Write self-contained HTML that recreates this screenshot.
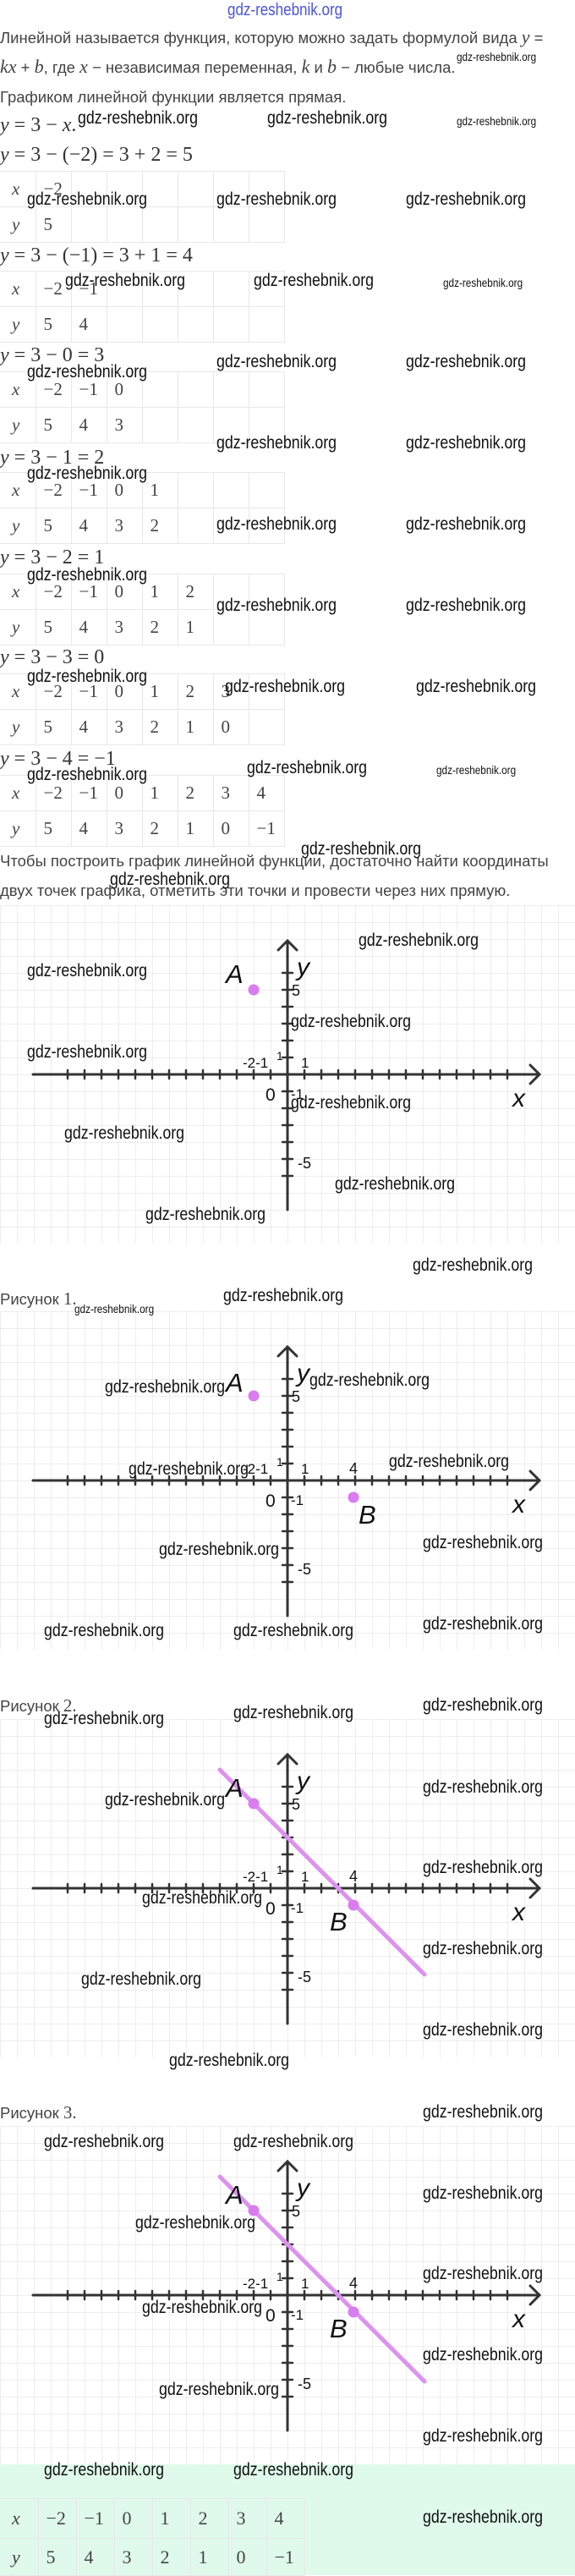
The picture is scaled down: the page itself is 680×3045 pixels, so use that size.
<!DOCTYPE html>
<html><head><meta charset="utf-8">
<style>
*{margin:0;padding:0;box-sizing:border-box}
body{width:680px;height:3044px;background:#fff;position:relative;overflow:hidden;font-family:"Liberation Sans",sans-serif;color:#3a3a3a}
.a{position:absolute;white-space:nowrap}
.t{font-size:18.5px;line-height:20px;color:#444}
.m{font-family:"Liberation Serif",serif;font-size:24px;line-height:24px;color:#333}
i{font-family:"Liberation Serif",serif;font-style:italic}
.w{position:absolute;white-space:nowrap;font-size:21px;line-height:24px;color:#111;transform:scaleX(.845);transform-origin:0 50%}
.s{position:absolute;white-space:nowrap;font-size:14px;line-height:16px;color:#111;transform:scaleX(.84);transform-origin:0 50%}
table{position:absolute;left:0;border-collapse:collapse;font-family:"Liberation Serif",serif;font-size:21px;color:#444}
td{width:42px;height:42px;border:1px solid #e8e8e8;padding:0 0 0 9px;text-align:left;vertical-align:middle}
td:first-child{border-left:none;padding-left:14px}
td.l{font-style:italic}
.g{position:absolute;left:0;width:680px;height:400px}
</style></head><body>

<div class="a" style="left:269px;top:2px;font-size:20px;line-height:20px;color:#4b55d6;transform:scaleX(.85);transform-origin:0 50%">gdz-reshebnik.org</div>

<div class="a t" style="left:0;top:34px">Линейной называется функция, которую можно задать формулой вида <i style="font-size:22px">y</i> =</div>
<div class="a t" style="left:0;top:69px"><i style="font-size:22px">kx</i> + <i style="font-size:22px">b</i>, где <i style="font-size:22px">x</i> − независимая переменная, <i style="font-size:22px">k</i> и <i style="font-size:22px">b</i> − любые числа.</div>
<div class="a t" style="left:0;top:105px">Графиком линейной функции является прямая.</div>

<div class="a m" style="left:0;top:136px"><i>y</i> = 3 − <i>x</i>.</div>
<div class="a m" style="left:0;top:171px"><i>y</i> = 3 − (−2) = 3 + 2 = 5</div>
<table style="top:202px"><tr><td class="l">x</td><td>−2</td><td></td><td></td><td></td><td></td><td></td><td></td></tr><tr><td class="l">y</td><td>5</td><td></td><td></td><td></td><td></td><td></td><td></td></tr></table>
<div class="a m" style="left:0;top:290px"><i>y</i> = 3 − (−1) = 3 + 1 = 4</div>
<table style="top:320px"><tr><td class="l">x</td><td>−2</td><td>−1</td><td></td><td></td><td></td><td></td><td></td></tr><tr><td class="l">y</td><td>5</td><td>4</td><td></td><td></td><td></td><td></td><td></td></tr></table>
<div class="a m" style="left:0;top:408px"><i>y</i> = 3 − 0 = 3</div>
<table style="top:439px"><tr><td class="l">x</td><td>−2</td><td>−1</td><td>0</td><td></td><td></td><td></td><td></td></tr><tr><td class="l">y</td><td>5</td><td>4</td><td>3</td><td></td><td></td><td></td><td></td></tr></table>
<div class="a m" style="left:0;top:529px"><i>y</i> = 3 − 1 = 2</div>
<table style="top:558px"><tr><td class="l">x</td><td>−2</td><td>−1</td><td>0</td><td>1</td><td></td><td></td><td></td></tr><tr><td class="l">y</td><td>5</td><td>4</td><td>3</td><td>2</td><td></td><td></td><td></td></tr></table>
<div class="a m" style="left:0;top:647px"><i>y</i> = 3 − 2 = 1</div>
<table style="top:678px"><tr><td class="l">x</td><td>−2</td><td>−1</td><td>0</td><td>1</td><td>2</td><td></td><td></td></tr><tr><td class="l">y</td><td>5</td><td>4</td><td>3</td><td>2</td><td>1</td><td></td><td></td></tr></table>
<div class="a m" style="left:0;top:765px"><i>y</i> = 3 − 3 = 0</div>
<table style="top:796px"><tr><td class="l">x</td><td>−2</td><td>−1</td><td>0</td><td>1</td><td>2</td><td>3</td><td></td></tr><tr><td class="l">y</td><td>5</td><td>4</td><td>3</td><td>2</td><td>1</td><td>0</td><td></td></tr></table>
<div class="a m" style="left:0;top:885px"><i>y</i> = 3 − 4 = −1</div>
<table style="top:916px"><tr><td class="l">x</td><td>−2</td><td>−1</td><td>0</td><td>1</td><td>2</td><td>3</td><td>4</td></tr><tr><td class="l">y</td><td>5</td><td>4</td><td>3</td><td>2</td><td>1</td><td>0</td><td>−1</td></tr></table>

<div class="a t" style="left:0;top:1008px">Чтобы построить график линейной функции, достаточно найти координаты</div>
<div class="a t" style="left:0;top:1043px">двух точек графика, отметить эти точки и провести через них прямую.</div>

<svg width="0" height="0" style="position:absolute"><defs>
<pattern id="gp" width="20" height="20" patternUnits="userSpaceOnUse"><path d="M0 0H20M0 0V20" stroke="#e3e3e3" stroke-width="1.2" fill="none"/></pattern>
</defs></svg>

<!-- Graph 1 -->
<svg class="g" style="top:1070px" viewBox="0 0 680 400">
<rect width="680" height="400" fill="url(#gp)"/>
<g stroke="#333" stroke-width="3" fill="none" stroke-linecap="round">
<path d="M39 200H637M627 189L638 200L627 211M340 360V42M329 53L340 42L351 53"/>
<path stroke-width="2.5" d="M80 195v10M100 195v10M120 195v10M140 195v10M160 195v10M180 195v10M200 195v10M220 195v10M240 195v10M260 195v10M280 195v10M300 195v10M320 195v10M360 195v10M380 195v10M400 195v10M420 195v10M440 195v10M460 195v10M480 195v10M500 195v10M520 195v10M540 195v10M560 195v10M580 195v10M600 195v10M334 80h12M334 100h12M334 120h12M334 140h12M334 160h12M334 180h12M334 220h12M334 240h12M334 260h12M334 280h12M334 300h12M334 320h12"/>
</g>
<g font-family="Liberation Sans, sans-serif" fill="#111">
<text x="351" y="83" font-size="30" font-style="italic">y</text>
<text x="606" y="238" font-size="30" font-style="italic">x</text>
<text x="345" y="107" font-size="18">5</text>
<text x="356" y="192" font-size="17">1</text>
<text x="287" y="192" font-size="17">-2-1</text>
<text x="327" y="183" font-size="14">1</text>
<text x="314" y="231" font-size="21">0</text>
<text x="344" y="229" font-size="17">-1</text>
<text x="352" y="311" font-size="18">-5</text>
<text x="267" y="92" font-size="31" font-style="italic">A</text>
</g>
<circle cx="300" cy="100" r="6.5" fill="#d87cf0"/>
</svg>

<div class="a t" style="left:0;top:1525px">Рисунок <span style="font-family:'Liberation Serif',serif;font-size:21px">1.</span></div>

<!-- Graph 2 -->
<svg class="g" style="top:1550px" viewBox="0 0 680 400">
<rect width="680" height="400" fill="url(#gp)"/>
<g stroke="#333" stroke-width="3" fill="none" stroke-linecap="round">
<path d="M39 200H637M627 189L638 200L627 211M340 360V42M329 53L340 42L351 53"/>
<path stroke-width="2.5" d="M80 195v10M100 195v10M120 195v10M140 195v10M160 195v10M180 195v10M200 195v10M220 195v10M240 195v10M260 195v10M280 195v10M300 195v10M320 195v10M360 195v10M380 195v10M400 195v10M420 195v10M440 195v10M460 195v10M480 195v10M500 195v10M520 195v10M540 195v10M560 195v10M580 195v10M600 195v10M334 80h12M334 100h12M334 120h12M334 140h12M334 160h12M334 180h12M334 220h12M334 240h12M334 260h12M334 280h12M334 300h12M334 320h12"/>
</g>
<g font-family="Liberation Sans, sans-serif" fill="#111">
<text x="351" y="83" font-size="30" font-style="italic">y</text>
<text x="606" y="238" font-size="30" font-style="italic">x</text>
<text x="345" y="107" font-size="18">5</text>
<text x="356" y="192" font-size="17">1</text>
<text x="287" y="192" font-size="17">-2-1</text>
<text x="327" y="183" font-size="14">1</text>
<text x="314" y="231" font-size="21">0</text>
<text x="344" y="229" font-size="17">-1</text>
<text x="352" y="311" font-size="18">-5</text>
<text x="413" y="192" font-size="18">4</text>
<text x="267" y="95" font-size="31" font-style="italic">A</text>
<text x="424" y="251" font-size="31" font-style="italic">B</text>
</g>
<circle cx="300" cy="100" r="6.5" fill="#d87cf0"/>
<circle cx="418" cy="220" r="6.5" fill="#d87cf0"/>
</svg>

<div class="a t" style="left:0;top:2006px">Рисунок <span style="font-family:'Liberation Serif',serif;font-size:21px">2.</span></div>

<!-- Graph 3 -->
<svg class="g" style="top:2032px" viewBox="0 0 680 400">
<rect width="680" height="400" fill="url(#gp)"/>
<g stroke="#333" stroke-width="3" fill="none" stroke-linecap="round">
<path d="M39 200H637M627 189L638 200L627 211M340 360V42M329 53L340 42L351 53"/>
<path stroke-width="2.5" d="M80 195v10M100 195v10M120 195v10M140 195v10M160 195v10M180 195v10M200 195v10M220 195v10M240 195v10M260 195v10M280 195v10M300 195v10M320 195v10M360 195v10M380 195v10M400 195v10M420 195v10M440 195v10M460 195v10M480 195v10M500 195v10M520 195v10M540 195v10M560 195v10M580 195v10M600 195v10M334 80h12M334 100h12M334 120h12M334 140h12M334 160h12M334 180h12M334 220h12M334 240h12M334 260h12M334 280h12M334 300h12M334 320h12"/>
</g>
<line x1="260" y1="60" x2="502" y2="302" stroke="#dc92ee" stroke-width="5" stroke-linecap="round"/>
<g font-family="Liberation Sans, sans-serif" fill="#111">
<text x="351" y="83" font-size="30" font-style="italic">y</text>
<text x="606" y="238" font-size="30" font-style="italic">x</text>
<text x="345" y="107" font-size="18">5</text>
<text x="356" y="192" font-size="17">1</text>
<text x="287" y="192" font-size="17">-2-1</text>
<text x="327" y="183" font-size="14">1</text>
<text x="314" y="231" font-size="21">0</text>
<text x="344" y="229" font-size="17">-1</text>
<text x="352" y="311" font-size="18">-5</text>
<text x="413" y="192" font-size="18">4</text>
<text x="267" y="92" font-size="31" font-style="italic">A</text>
<text x="390" y="250" font-size="31" font-style="italic">B</text>
</g>
<circle cx="300" cy="100" r="6.5" fill="#d87cf0"/>
<circle cx="418" cy="220" r="6.5" fill="#d87cf0"/>
</svg>

<div class="a t" style="left:0;top:2487px">Рисунок <span style="font-family:'Liberation Serif',serif;font-size:21px">3.</span></div>

<!-- Graph 4 -->
<svg class="g" style="top:2513px" viewBox="0 0 680 400">
<rect width="680" height="400" fill="url(#gp)"/>
<g stroke="#333" stroke-width="3" fill="none" stroke-linecap="round">
<path d="M39 200H637M627 189L638 200L627 211M340 360V42M329 53L340 42L351 53"/>
<path stroke-width="2.5" d="M80 195v10M100 195v10M120 195v10M140 195v10M160 195v10M180 195v10M200 195v10M220 195v10M240 195v10M260 195v10M280 195v10M300 195v10M320 195v10M360 195v10M380 195v10M400 195v10M420 195v10M440 195v10M460 195v10M480 195v10M500 195v10M520 195v10M540 195v10M560 195v10M580 195v10M600 195v10M334 80h12M334 100h12M334 120h12M334 140h12M334 160h12M334 180h12M334 220h12M334 240h12M334 260h12M334 280h12M334 300h12M334 320h12"/>
</g>
<line x1="260" y1="60" x2="502" y2="302" stroke="#dc92ee" stroke-width="5" stroke-linecap="round"/>
<g font-family="Liberation Sans, sans-serif" fill="#111">
<text x="351" y="83" font-size="30" font-style="italic">y</text>
<text x="606" y="238" font-size="30" font-style="italic">x</text>
<text x="345" y="107" font-size="18">5</text>
<text x="356" y="192" font-size="17">1</text>
<text x="287" y="192" font-size="17">-2-1</text>
<text x="327" y="183" font-size="14">1</text>
<text x="314" y="231" font-size="21">0</text>
<text x="344" y="229" font-size="17">-1</text>
<text x="352" y="311" font-size="18">-5</text>
<text x="413" y="192" font-size="18">4</text>
<text x="267" y="92" font-size="31" font-style="italic">A</text>
<text x="390" y="250" font-size="31" font-style="italic">B</text>
</g>
<circle cx="300" cy="100" r="6.5" fill="#d87cf0"/>
<circle cx="418" cy="220" r="6.5" fill="#d87cf0"/>
</svg>

<div style="position:absolute;left:0;top:2913px;width:680px;height:131px;background:#dffaea"></div>
<table style="top:2953px;font-size:22px">
<tr><td class="l" style="width:45px;height:47px">x</td><td style="width:45px">−2</td><td style="width:45px">−1</td><td style="width:45px">0</td><td style="width:45px">1</td><td style="width:45px">2</td><td style="width:45px">3</td><td style="width:45px">4</td></tr>
<tr><td class="l" style="height:44px">y</td><td>5</td><td>4</td><td>3</td><td>2</td><td>1</td><td>0</td><td>−1</td></tr>
</table>

<!-- watermarks -->
<div class="s" style="left:540px;top:59px">gdz-reshebnik.org</div>
<div class="w" style="left:92px;top:128px">gdz-reshebnik.org</div>
<div class="w" style="left:316px;top:128px">gdz-reshebnik.org</div>
<div class="s" style="left:540px;top:135px">gdz-reshebnik.org</div>
<div class="w" style="left:32px;top:224px">gdz-reshebnik.org</div>
<div class="w" style="left:256px;top:224px">gdz-reshebnik.org</div>
<div class="w" style="left:480px;top:224px">gdz-reshebnik.org</div>
<div class="w" style="left:77px;top:320px">gdz-reshebnik.org</div>
<div class="w" style="left:300px;top:320px">gdz-reshebnik.org</div>
<div class="s" style="left:524px;top:326px">gdz-reshebnik.org</div>
<div class="w" style="left:256px;top:416px">gdz-reshebnik.org</div>
<div class="w" style="left:480px;top:416px">gdz-reshebnik.org</div>
<div class="w" style="left:32px;top:428px">gdz-reshebnik.org</div>
<div class="w" style="left:256px;top:512px">gdz-reshebnik.org</div>
<div class="w" style="left:480px;top:512px">gdz-reshebnik.org</div>
<div class="w" style="left:32px;top:548px">gdz-reshebnik.org</div>
<div class="w" style="left:256px;top:608px">gdz-reshebnik.org</div>
<div class="w" style="left:480px;top:608px">gdz-reshebnik.org</div>
<div class="w" style="left:32px;top:668px">gdz-reshebnik.org</div>
<div class="w" style="left:256px;top:704px">gdz-reshebnik.org</div>
<div class="w" style="left:480px;top:704px">gdz-reshebnik.org</div>
<div class="w" style="left:32px;top:788px">gdz-reshebnik.org</div>
<div class="w" style="left:266px;top:800px">gdz-reshebnik.org</div>
<div class="w" style="left:492px;top:800px">gdz-reshebnik.org</div>
<div class="w" style="left:32px;top:904px">gdz-reshebnik.org</div>
<div class="w" style="left:292px;top:896px">gdz-reshebnik.org</div>
<div class="s" style="left:516px;top:902px">gdz-reshebnik.org</div>
<div class="w" style="left:356px;top:992px">gdz-reshebnik.org</div>
<div class="w" style="left:130px;top:1028px">gdz-reshebnik.org</div>

<div class="w" style="left:424px;top:1100px">gdz-reshebnik.org</div>
<div class="w" style="left:32px;top:1136px">gdz-reshebnik.org</div>
<div class="w" style="left:344px;top:1196px">gdz-reshebnik.org</div>
<div class="w" style="left:32px;top:1232px">gdz-reshebnik.org</div>
<div class="w" style="left:344px;top:1292px">gdz-reshebnik.org</div>
<div class="w" style="left:76px;top:1328px">gdz-reshebnik.org</div>
<div class="w" style="left:396px;top:1388px">gdz-reshebnik.org</div>
<div class="w" style="left:172px;top:1424px">gdz-reshebnik.org</div>
<div class="w" style="left:488px;top:1484px">gdz-reshebnik.org</div>

<div class="w" style="left:264px;top:1520px">gdz-reshebnik.org</div>
<div class="s" style="left:88px;top:1539px">gdz-reshebnik.org</div>
<div class="w" style="left:124px;top:1628px">gdz-reshebnik.org</div>
<div class="w" style="left:366px;top:1620px">gdz-reshebnik.org</div>
<div class="w" style="left:152px;top:1725px">gdz-reshebnik.org</div>
<div class="w" style="left:460px;top:1716px">gdz-reshebnik.org</div>
<div class="w" style="left:500px;top:1812px">gdz-reshebnik.org</div>
<div class="w" style="left:188px;top:1820px">gdz-reshebnik.org</div>
<div class="w" style="left:52px;top:1916px">gdz-reshebnik.org</div>
<div class="w" style="left:276px;top:1916px">gdz-reshebnik.org</div>
<div class="w" style="left:500px;top:1908px">gdz-reshebnik.org</div>
<div class="w" style="left:500px;top:2004px">gdz-reshebnik.org</div>
<div class="w" style="left:276px;top:2013px">gdz-reshebnik.org</div>
<div class="w" style="left:52px;top:2020px">gdz-reshebnik.org</div>

<div class="w" style="left:124px;top:2116px">gdz-reshebnik.org</div>
<div class="w" style="left:500px;top:2101px">gdz-reshebnik.org</div>
<div class="w" style="left:500px;top:2196px">gdz-reshebnik.org</div>
<div class="w" style="left:168px;top:2232px">gdz-reshebnik.org</div>
<div class="w" style="left:500px;top:2292px">gdz-reshebnik.org</div>
<div class="w" style="left:96px;top:2328px">gdz-reshebnik.org</div>
<div class="w" style="left:500px;top:2388px">gdz-reshebnik.org</div>
<div class="w" style="left:200px;top:2424px">gdz-reshebnik.org</div>
<div class="w" style="left:500px;top:2485px">gdz-reshebnik.org</div>
<div class="w" style="left:52px;top:2520px">gdz-reshebnik.org</div>
<div class="w" style="left:276px;top:2520px">gdz-reshebnik.org</div>

<div class="w" style="left:500px;top:2581px">gdz-reshebnik.org</div>
<div class="w" style="left:160px;top:2616px">gdz-reshebnik.org</div>
<div class="w" style="left:500px;top:2676px">gdz-reshebnik.org</div>
<div class="w" style="left:168px;top:2716px">gdz-reshebnik.org</div>
<div class="w" style="left:500px;top:2772px">gdz-reshebnik.org</div>
<div class="w" style="left:188px;top:2813px">gdz-reshebnik.org</div>
<div class="w" style="left:500px;top:2868px">gdz-reshebnik.org</div>
<div class="w" style="left:52px;top:2908px">gdz-reshebnik.org</div>
<div class="w" style="left:276px;top:2908px">gdz-reshebnik.org</div>
<div class="w" style="left:500px;top:2964px">gdz-reshebnik.org</div>

</body></html>
